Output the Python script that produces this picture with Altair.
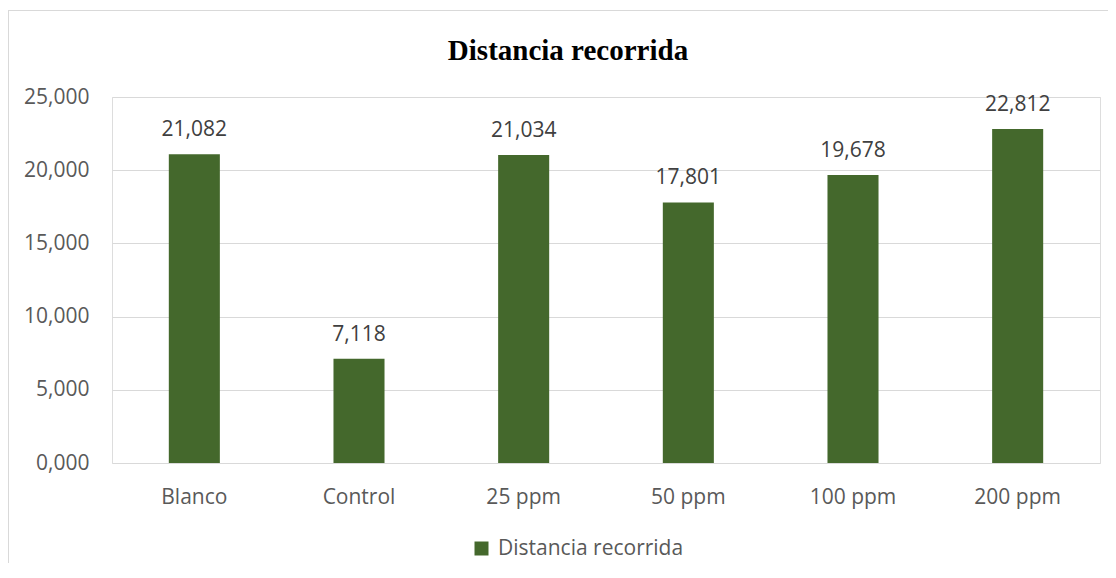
import altair as alt
import pandas as pd

categorias = ["Blanco", "Control", "25 ppm", "50 ppm", "100 ppm", "200 ppm"]
valores = [21.082, 7.118, 21.034, 17.801, 19.678, 22.812]
serie = "Distancia recorrida"
ticks_y = [0, 5, 10, 15, 20, 25]

df = pd.DataFrame({"tratamiento": categorias, "valor": valores, "serie": [serie] * len(categorias)})
marco = pd.DataFrame({"k": [0]})

FONT = "Open Sans"
GRID = "#D9D9D9"
VERDE = "#44682C"
fmt = "replace(format(datum.value, '.3f'), '.', ',')"

x = alt.X("tratamiento:N", sort=categorias, title=None,
          scale=alt.Scale(paddingInner=0.69, paddingOuter=0.345),
          axis=alt.Axis(labelAngle=0, labelFont=FONT, labelFontSize=21, labelColor="#595959",
                        labelPadding=40, labelBaseline="alphabetic", ticks=False, tickSize=0,
                        domain=False, grid=False))
y = alt.Y("valor:Q", title=None, scale=alt.Scale(domain=[0, 25], nice=False),
          axis=alt.Axis(values=ticks_y, labelExpr=fmt, labelFont=FONT, labelFontSize=21,
                        labelColor="#595959", labelPadding=23, ticks=False, domain=False,
                        gridColor=GRID, gridWidth=1))

bars = alt.Chart(df).mark_bar().encode(
    x=x, y=y,
    color=alt.Color("serie:N", scale=alt.Scale(range=[VERDE]),
                    legend=alt.Legend(title=None, orient="none", legendX=359, legendY=441,
                                      labelFont=FONT, labelFontSize=21, labelColor="#595959",
                                      labelLimit=0,
                                      symbolType="square", symbolSize=196, symbolStrokeWidth=0,
                                      labelOffset=6, padding=0)))

labels = alt.Chart(df).transform_calculate(
    etiqueta="replace(format(datum.valor, '.3f'), '.', ',')"
).mark_text(font=FONT, fontSize=21, color="#404040", baseline="alphabetic", dy=-18).encode(
    x=alt.X("tratamiento:N", sort=categorias), y=alt.Y("valor:Q"), text="etiqueta:N")

borde_izq = alt.Chart(marco).mark_rule(color=GRID, strokeWidth=1).encode(
    x=alt.value(-103.5), y=alt.value(-87), y2=alt.value(480))
borde_sup = alt.Chart(marco).mark_rule(color=GRID, strokeWidth=1).encode(
    x=alt.value(-104), x2=alt.value(996), y=alt.value(-86.5))

chart = alt.layer(borde_izq, borde_sup, bars, labels).properties(
    width=988, height=366,
    title=alt.TitleParams("Distancia recorrida", font="Liberation Serif", fontSize=29,
                          fontWeight="bold", color="#000000", anchor="middle", dx=-38,
                          dy=60),
    autosize=alt.AutoSizeParams(type="none"),
    padding={"left": 104, "top": 89, "right": 8, "bottom": 100},
).configure_view(stroke=None).configure(background="#FFFFFF")

chart.save("out.html", embed_options={"renderer": "svg", "actions": False})
